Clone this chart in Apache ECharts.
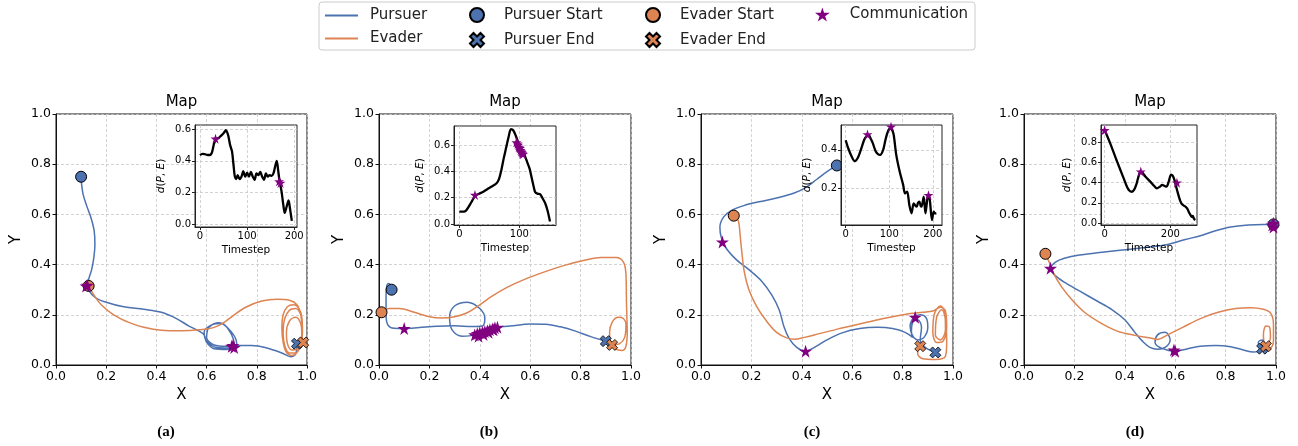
<!DOCTYPE html>
<html lang="en">
<head>
<meta charset="UTF-8">
<title>Pursuit maps</title>
<script src="https://cdn.jsdelivr.net/npm/echarts@6.0.0/dist/echarts.min.js"></script>
</head>
<body style="margin:0;background:#fff">
<div id="main" style="width:1298px;height:446px;"></div>
<script type="text/javascript">
// ---- data: (x, y) map positions, (timestep, distance) insets ----
const pursuerA = [[0.10,0.75],[0.102,0.72],[0.108,0.68],[0.122,0.635],[0.14,0.585],[0.152,0.535],[0.155,0.48],[0.151,0.43],[0.142,0.38],[0.13,0.34],[0.128,0.31],[0.155,0.27],[0.20,0.25],[0.27,0.232],[0.35,0.222],[0.42,0.21],[0.48,0.185],[0.53,0.155],[0.57,0.135],[0.59,0.12],[0.60,0.09],[0.63,0.065],[0.68,0.062],[0.71,0.08],[0.70,0.12],[0.66,0.165],[0.62,0.16],[0.59,0.13],[0.60,0.095],[0.64,0.07],[0.69,0.068],[0.72,0.085],[0.70,0.13],[0.65,0.168],[0.61,0.15],[0.60,0.11],[0.63,0.08],[0.68,0.075],[0.72,0.078],[0.78,0.078],[0.84,0.068],[0.90,0.048],[0.935,0.033],[0.955,0.045],[0.96,0.085]];
const evaderA = [[0.13,0.315],[0.15,0.28],[0.18,0.24],[0.23,0.20],[0.29,0.17],[0.35,0.15],[0.42,0.138],[0.50,0.136],[0.57,0.14],[0.63,0.15],[0.67,0.17],[0.71,0.20],[0.76,0.232],[0.82,0.255],[0.88,0.262],[0.93,0.258],[0.96,0.24],[0.975,0.20],[0.98,0.145],[0.975,0.09],[0.96,0.05],[0.94,0.038],[0.918,0.05],[0.905,0.09],[0.90,0.145],[0.905,0.20],[0.922,0.232],[0.945,0.24],[0.968,0.225],[0.98,0.185],[0.982,0.13],[0.975,0.08],[0.955,0.048],[0.93,0.048],[0.912,0.075],[0.905,0.125],[0.91,0.18],[0.93,0.218],[0.955,0.225],[0.975,0.20],[0.982,0.15],[0.978,0.10],[0.962,0.065],[0.94,0.06],[0.922,0.085],[0.918,0.13],[0.93,0.175],[0.955,0.19],[0.975,0.165],[0.98,0.12],[0.985,0.09]];
const commA = [[0.12,0.315],[0.125,0.318],[0.70,0.075],[0.71,0.07],[0.705,0.078]];
const pStartA = [[0.10,0.75]], pEndA = [[0.96,0.085]], eStartA = [[0.13,0.315]], eEndA = [[0.985,0.09]];
const distA = [[0,0.436],[5,0.444],[10,0.443],[15,0.438],[20,0.437],[25,0.45],[30,0.51],[35,0.54],[40,0.545],[45,0.56],[50,0.575],[55,0.594],[60,0.56],[64,0.5],[68,0.46],[71,0.38],[74,0.3],[77,0.285],[80,0.31],[84,0.285],[88,0.3],[92,0.335],[96,0.3],[100,0.325],[104,0.3],[108,0.33],[112,0.3],[116,0.28],[120,0.32],[124,0.31],[128,0.33],[132,0.30],[136,0.28],[140,0.32],[144,0.3],[148,0.31],[152,0.305],[156,0.32],[160,0.37],[163,0.40],[166,0.34],[169,0.27],[173,0.21],[177,0.12],[180,0.07],[184,0.11],[188,0.15],[191,0.10],[195,0.02]];
const distCommA = [[33,0.54],[168,0.27],[171,0.26]];

const pursuerB = [[0.05,0.30],[0.04,0.325],[0.032,0.32],[0.028,0.27],[0.028,0.20],[0.035,0.16],[0.06,0.146],[0.10,0.145],[0.16,0.149],[0.23,0.154],[0.30,0.156],[0.37,0.153],[0.41,0.155],[0.42,0.185],[0.40,0.225],[0.35,0.25],[0.30,0.235],[0.28,0.19],[0.29,0.14],[0.33,0.115],[0.38,0.12],[0.42,0.14],[0.46,0.15],[0.52,0.155],[0.60,0.163],[0.66,0.162],[0.72,0.152],[0.78,0.135],[0.84,0.113],[0.90,0.095]];
const evaderB = [[0.01,0.21],[0.04,0.225],[0.08,0.225],[0.14,0.21],[0.20,0.192],[0.25,0.187],[0.30,0.192],[0.35,0.208],[0.40,0.24],[0.45,0.275],[0.51,0.31],[0.58,0.342],[0.66,0.372],[0.74,0.398],[0.82,0.418],[0.88,0.428],[0.94,0.428],[0.97,0.41],[0.98,0.36],[0.982,0.25],[0.985,0.13],[0.98,0.075],[0.965,0.058],[0.94,0.063],[0.92,0.09],[0.915,0.13],[0.925,0.17],[0.95,0.19],[0.97,0.185],[0.98,0.16],[0.975,0.11],[0.955,0.085],[0.925,0.08]];
const commB = [[0.10,0.145],[0.38,0.12],[0.39,0.125],[0.40,0.128],[0.41,0.13],[0.42,0.133],[0.43,0.136],[0.44,0.14],[0.45,0.143],[0.46,0.148],[0.47,0.15],[0.395,0.115],[0.415,0.122],[0.435,0.13],[0.455,0.14]];
const pStartB = [[0.05,0.30]], pEndB = [[0.90,0.095]], eStartB = [[0.01,0.21]], eEndB = [[0.925,0.08]];
const distB = [[0,0.094],[8,0.094],[12,0.106],[20,0.165],[26,0.213],[33,0.23],[40,0.245],[47,0.265],[54,0.284],[62,0.309],[66,0.34],[70,0.41],[74,0.5],[78,0.58],[82,0.66],[86,0.72],[90,0.71],[94,0.67],[98,0.62],[103,0.57],[108,0.53],[113,0.47],[117,0.42],[120,0.36],[123,0.30],[126,0.245],[130,0.23],[134,0.228],[138,0.20],[143,0.157],[147,0.10],[151,0.018]];
const distCommB = [[26,0.22],[95,0.62],[97,0.61],[98,0.60],[99,0.585],[100,0.58],[101,0.575],[102,0.56],[103,0.55],[104,0.545],[105,0.535],[106,0.53]];

const pursuerC = [[0.539,0.795],[0.50,0.77],[0.46,0.74],[0.42,0.71],[0.37,0.685],[0.30,0.665],[0.23,0.65],[0.17,0.635],[0.12,0.615],[0.09,0.59],[0.075,0.55],[0.08,0.51],[0.10,0.465],[0.14,0.42],[0.19,0.38],[0.24,0.335],[0.28,0.28],[0.31,0.22],[0.33,0.15],[0.35,0.105],[0.38,0.07],[0.415,0.055],[0.45,0.07],[0.50,0.10],[0.56,0.128],[0.63,0.145],[0.70,0.15],[0.76,0.145],[0.81,0.13],[0.84,0.11],[0.83,0.155],[0.845,0.19],[0.87,0.20],[0.895,0.185],[0.90,0.15],[0.885,0.11],[0.86,0.10],[0.835,0.13],[0.84,0.17],[0.86,0.18],[0.875,0.15],[0.87,0.10],[0.89,0.07],[0.93,0.05]];
const evaderC = [[0.13,0.595],[0.148,0.575],[0.155,0.52],[0.162,0.45],[0.172,0.37],[0.19,0.30],[0.22,0.235],[0.26,0.175],[0.30,0.13],[0.34,0.108],[0.37,0.103],[0.41,0.11],[0.47,0.125],[0.55,0.145],[0.65,0.168],[0.75,0.19],[0.83,0.205],[0.88,0.21],[0.92,0.215],[0.95,0.23],[0.97,0.215],[0.975,0.15],[0.96,0.095],[0.935,0.09],[0.92,0.13],[0.925,0.20],[0.95,0.235],[0.968,0.21],[0.97,0.14],[0.95,0.10],[0.93,0.12],[0.935,0.19],[0.955,0.22],[0.97,0.18],[0.975,0.09],[0.97,0.035],[0.93,0.022],[0.88,0.025],[0.86,0.045],[0.865,0.08],[0.87,0.075]];
const commC = [[0.085,0.49],[0.415,0.055],[0.85,0.19]];
const pStartC = [[0.539,0.795]], pEndC = [[0.93,0.05]], eStartC = [[0.13,0.595]], eEndC = [[0.87,0.075]];
const distC = [[0,0.45],[6,0.407],[14,0.364],[21,0.341],[29,0.364],[37,0.416],[43,0.455],[48,0.47],[53,0.476],[58,0.455],[62,0.436],[69,0.391],[74,0.378],[79,0.374],[86,0.40],[91,0.45],[96,0.49],[101,0.51],[106,0.505],[110,0.48],[116,0.374],[124,0.286],[132,0.217],[136,0.174],[141,0.183],[146,0.114],[151,0.071],[156,0.122],[160,0.11],[163,0.105],[166,0.125],[169,0.131],[172,0.11],[174,0.105],[179,0.157],[183,0.071],[186,0.12],[189,0.166],[193,0.14],[198,0.036],[202,0.079],[205,0.07],[208,0.071]];
const distCommC = [[50,0.48],[104,0.52],[190,0.165]];

const pursuerD = [[0.99,0.56],[0.95,0.56],[0.89,0.558],[0.82,0.55],[0.76,0.535],[0.70,0.515],[0.64,0.50],[0.57,0.48],[0.48,0.468],[0.39,0.458],[0.30,0.448],[0.22,0.438],[0.16,0.425],[0.125,0.41],[0.105,0.385],[0.12,0.36],[0.16,0.33],[0.22,0.295],[0.29,0.255],[0.35,0.22],[0.40,0.18],[0.44,0.13],[0.47,0.095],[0.50,0.07],[0.53,0.063],[0.56,0.07],[0.58,0.10],[0.56,0.13],[0.53,0.12],[0.52,0.09],[0.55,0.065],[0.60,0.055],[0.65,0.065],[0.70,0.075],[0.76,0.078],[0.82,0.073],[0.87,0.06],[0.91,0.052],[0.935,0.06],[0.93,0.09],[0.945,0.10],[0.955,0.08],[0.945,0.065]];
const evaderD = [[0.085,0.443],[0.10,0.41],[0.12,0.36],[0.15,0.31],[0.19,0.26],[0.24,0.21],[0.30,0.17],[0.37,0.135],[0.44,0.118],[0.50,0.108],[0.53,0.102],[0.57,0.12],[0.63,0.15],[0.70,0.185],[0.77,0.21],[0.84,0.225],[0.90,0.228],[0.95,0.222],[0.98,0.205],[0.99,0.16],[0.99,0.10],[0.985,0.075],[0.97,0.065],[0.955,0.08],[0.95,0.12],[0.96,0.155],[0.975,0.15],[0.978,0.11],[0.97,0.085],[0.96,0.075]];
const commD = [[0.105,0.385],[0.60,0.055],[0.595,0.06],[0.99,0.565],[0.99,0.55],[0.985,0.558]];
const pStartD = [[0.99,0.56]], pEndD = [[0.945,0.065]], eStartD = [[0.085,0.443]], eEndD = [[0.96,0.075]];
const distD = [[0,0.922],[17,0.79],[38,0.608],[58,0.443],[68,0.36],[75,0.322],[83,0.31],[90,0.33],[96,0.377],[103,0.46],[109,0.51],[115,0.50],[124,0.46],[139,0.41],[150,0.37],[159,0.344],[168,0.36],[175,0.377],[182,0.368],[188,0.36],[195,0.41],[202,0.48],[207,0.47],[212,0.43],[220,0.33],[230,0.22],[237,0.18],[245,0.165],[251,0.145],[256,0.11],[261,0.08],[265,0.06],[268,0.07],[272,0.04],[276,0.03]];
const distCommD = [[0,0.92],[110,0.51],[220,0.40]];

const captions = ['(a)', '(b)', '(c)', '(d)'];
const insetXTicks = [[0, 100, 200], [0, 100], [0, 100, 200], [0, 200]];
const insetYTicks = [[0, 0.2, 0.4, 0.6], [0, 0.2, 0.4, 0.6], [0.2, 0.4], [0, 0.2, 0.4, 0.6, 0.8]];

const pursuers = [pursuerA, pursuerB, pursuerC, pursuerD];
const evaders = [evaderA, evaderB, evaderC, evaderD];
const comms = [commA, commB, commC, commD];
const pStarts = [pStartA, pStartB, pStartC, pStartD];
const pEnds = [pEndA, pEndB, pEndC, pEndD];
const eStarts = [eStartA, eStartB, eStartC, eStartD];
const eEnds = [eEndA, eEndB, eEndC, eEndD];
const dists = [distA, distB, distC, distD];
const distComms = [distCommA, distCommB, distCommC, distCommD];

// ---- layout (pixels) ----
const mapBoxes = [[56, 114, 251, 251], [379, 114, 252, 251], [701, 114, 252, 251], [1024, 114, 252, 251]];
const insetBoxes = [[195, 125, 102, 102], [454, 126, 102, 99], [841, 125, 101, 100], [1101, 125, 96, 100]];
const insetXRange = [[-10.6, 206], [-8.9, 161], [-10.8, 221], [-11, 281]];
const insetYRange = [[-0.019, 0.627], [-0.008, 0.744], [0.010, 0.529], [-0.02, 0.972]];
const captionX = [166, 489, 812, 1135];

const BLUE = '#4c72b0', ORANGE = '#dd8452', PURPLE = '#800080';
const FONT = 'DejaVu Sans';
const STAR = 'path://M50,0 L61.2,34.5 L97.6,34.5 L68.2,55.9 L79.4,90.5 L50,69.1 L20.6,90.5 L31.8,55.9 L2.4,34.5 L38.8,34.5 Z';
const CROSS = 'path://M2.5,0 L5,2.5 L7.5,0 L10,2.5 L7.5,5 L10,7.5 L7.5,10 L5,7.5 L2.5,10 L0,7.5 L2.5,5 L0,2.5 Z';

const grids = [], xAxes = [], yAxes = [], series = [], graphics = [];

graphics.push({ type: 'rect', shape: { x: 319, y: 2, width: 656, height: 48, r: 3 },
  style: { fill: '#fff', stroke: '#cccccc', lineWidth: 1 }, z: -1 });

const gridLine = { show: true, lineStyle: { color: '#c8c8c8', width: 0.8, type: [3, 2] } };

for (let i = 0; i < 4; i++) {
  const m = mapBoxes[i], b = insetBoxes[i];
  const gm = 2 * i, gi = 2 * i + 1;
  grids.push({ left: m[0], top: m[1], width: m[2], height: m[3], show: true,
    borderColor: '#111', borderWidth: 1, backgroundColor: 'transparent', z: 0 });
  grids.push({ left: b[0], top: b[1], width: b[2], height: b[3], show: true,
    borderColor: '#222', borderWidth: 1, backgroundColor: '#fff', z: 10 });

  xAxes.push({ type: 'value', gridIndex: gm, min: 0, max: 1, interval: 0.2,
    name: 'X', nameLocation: 'middle', nameGap: 21,
    nameTextStyle: { fontFamily: FONT, fontSize: 15, color: '#000' },
    axisLine: { show: true, onZero: false, lineStyle: { color: '#111' } },
    axisTick: { show: true, length: 3.5, lineStyle: { color: '#111' } },
    axisLabel: { fontFamily: FONT, fontSize: 12.5, color: '#000', margin: 5, formatter: v => v.toFixed(1) },
    splitLine: gridLine });
  yAxes.push({ type: 'value', gridIndex: gm, min: 0, max: 1, interval: 0.2,
    name: 'Y', nameLocation: 'middle', nameGap: 32, nameRotate: 90,
    nameTextStyle: { fontFamily: FONT, fontSize: 15, color: '#000' },
    axisLine: { show: true, onZero: false, lineStyle: { color: '#111' } },
    axisTick: { show: true, length: 3.5, lineStyle: { color: '#111' } },
    axisLabel: { fontFamily: FONT, fontSize: 12.5, color: '#000', margin: 5, formatter: v => v.toFixed(1) },
    splitLine: gridLine });

  xAxes.push({ type: 'value', gridIndex: gi, min: insetXRange[i][0], max: insetXRange[i][1], z: 10,
    name: 'Timestep', nameLocation: 'middle', nameGap: 18,
    nameTextStyle: { fontFamily: FONT, fontSize: 10.5, color: '#000' },
    axisLine: { show: true, onZero: false, lineStyle: { color: '#222' } },
    axisTick: { show: true, length: 3, customValues: insetXTicks[i], lineStyle: { color: '#222' } },
    axisLabel: { fontFamily: FONT, fontSize: 10, color: '#000', margin: 4, customValues: insetXTicks[i],
      formatter: v => String(Math.round(v)) },
    splitLine: gridLine });
  yAxes.push({ type: 'value', gridIndex: gi, min: insetYRange[i][0], max: insetYRange[i][1], z: 10,
    name: '{i|d}({i|P}, {i|E})', nameLocation: 'middle', nameGap: 28, nameRotate: 90,
    nameTextStyle: { fontFamily: FONT, fontSize: 10.5, color: '#000', rich: { i: { fontStyle: 'italic', fontFamily: FONT, fontSize: 10.5 } } },
    axisLine: { show: true, onZero: false, lineStyle: { color: '#222' } },
    axisTick: { show: true, length: 3, customValues: insetYTicks[i], lineStyle: { color: '#222' } },
    axisLabel: { fontFamily: FONT, fontSize: 10, color: '#000', margin: 4, customValues: insetYTicks[i],
      formatter: v => v.toFixed(1) },
    splitLine: gridLine });

  series.push({ name: 'Pursuer', type: 'line', xAxisIndex: gm, yAxisIndex: gm, data: pursuers[i],
    smooth: 0.35, showSymbol: false, lineStyle: { color: BLUE, width: 1.5 }, itemStyle: { color: BLUE }, z: 2 });
  series.push({ name: 'Evader', type: 'line', xAxisIndex: gm, yAxisIndex: gm, data: evaders[i],
    smooth: 0.35, showSymbol: false, lineStyle: { color: ORANGE, width: 1.5 }, itemStyle: { color: ORANGE }, z: 2 });
  series.push({ name: 'Pursuer Start', type: 'scatter', xAxisIndex: gm, yAxisIndex: gm, data: pStarts[i],
    symbol: 'circle', symbolSize: 11, itemStyle: { color: BLUE, borderColor: '#000', borderWidth: 1, opacity: 1 }, z: 3 });
  series.push({ name: 'Evader Start', type: 'scatter', xAxisIndex: gm, yAxisIndex: gm, data: eStarts[i],
    symbol: 'circle', symbolSize: 11, itemStyle: { color: ORANGE, borderColor: '#000', borderWidth: 1, opacity: 1 }, z: 3 });
  series.push({ name: 'Pursuer End', type: 'scatter', xAxisIndex: gm, yAxisIndex: gm, data: pEnds[i],
    symbol: CROSS, symbolSize: 11, itemStyle: { color: BLUE, borderColor: '#000', borderWidth: 0.8, opacity: 1 }, z: 3 });
  series.push({ name: 'Evader End', type: 'scatter', xAxisIndex: gm, yAxisIndex: gm, data: eEnds[i],
    symbol: CROSS, symbolSize: 11, itemStyle: { color: ORANGE, borderColor: '#000', borderWidth: 0.8, opacity: 1 }, z: 3 });
  series.push({ name: 'Communication', type: 'scatter', xAxisIndex: gm, yAxisIndex: gm, data: comms[i],
    symbol: STAR, symbolSize: 13, itemStyle: { color: PURPLE, opacity: 1 }, z: 4 });

  series.push({ name: 'dist' + i, type: 'line', xAxisIndex: gi, yAxisIndex: gi, data: dists[i],
    smooth: 0.3, showSymbol: false, lineStyle: { color: '#000', width: 2.3 }, z: 11 });
  series.push({ name: 'Communication', type: 'scatter', xAxisIndex: gi, yAxisIndex: gi, data: distComms[i],
    symbol: STAR, symbolSize: 10, itemStyle: { color: PURPLE, opacity: 1 }, z: 12 });

  graphics.push({ type: 'text', x: m[0] + m[2] / 2, y: 102,
    style: { text: 'Map', font: '15px "DejaVu Sans"', fill: '#000', textAlign: 'center', textVerticalAlign: 'middle' } });
  graphics.push({ type: 'text', x: captionX[i], y: 432,
    style: { text: captions[i], font: 'bold 15px "Liberation Serif"', fill: '#000', textAlign: 'center', textVerticalAlign: 'middle' } });
}

const legendText = pad => ({ fontFamily: FONT, fontSize: 15, color: '#222', lineHeight: 15, padding: [0, 0, 0, pad] });
const legends = [
  { data: ['Pursuer', 'Evader'], left: 325, top: 8, icon: 'rect', itemWidth: 33, itemHeight: 2, itemGap: 8, textStyle: legendText(7) },
  { data: ['Pursuer Start', 'Pursuer End'], left: 469, top: 7, itemWidth: 14, itemHeight: 14, itemGap: 9, textStyle: legendText(15) },
  { data: ['Evader Start', 'Evader End'], left: 645, top: 7, itemWidth: 14, itemHeight: 14, itemGap: 9, textStyle: legendText(15) },
  { data: ['Communication'], left: 815, top: 7, itemWidth: 15, itemHeight: 14, itemGap: 9, textStyle: legendText(15) }
].map(l => Object.assign({ orient: 'vertical', padding: 0, selectedMode: false }, l));

const options = {
  animation: false,
  backgroundColor: '#fff',
  legend: legends,
  grid: grids,
  xAxis: xAxes,
  yAxis: yAxes,
  series: series,
  graphic: graphics
};

let myChart = echarts.init(document.getElementById('main'));
myChart.setOption(options);
</script>
</body>
</html>
